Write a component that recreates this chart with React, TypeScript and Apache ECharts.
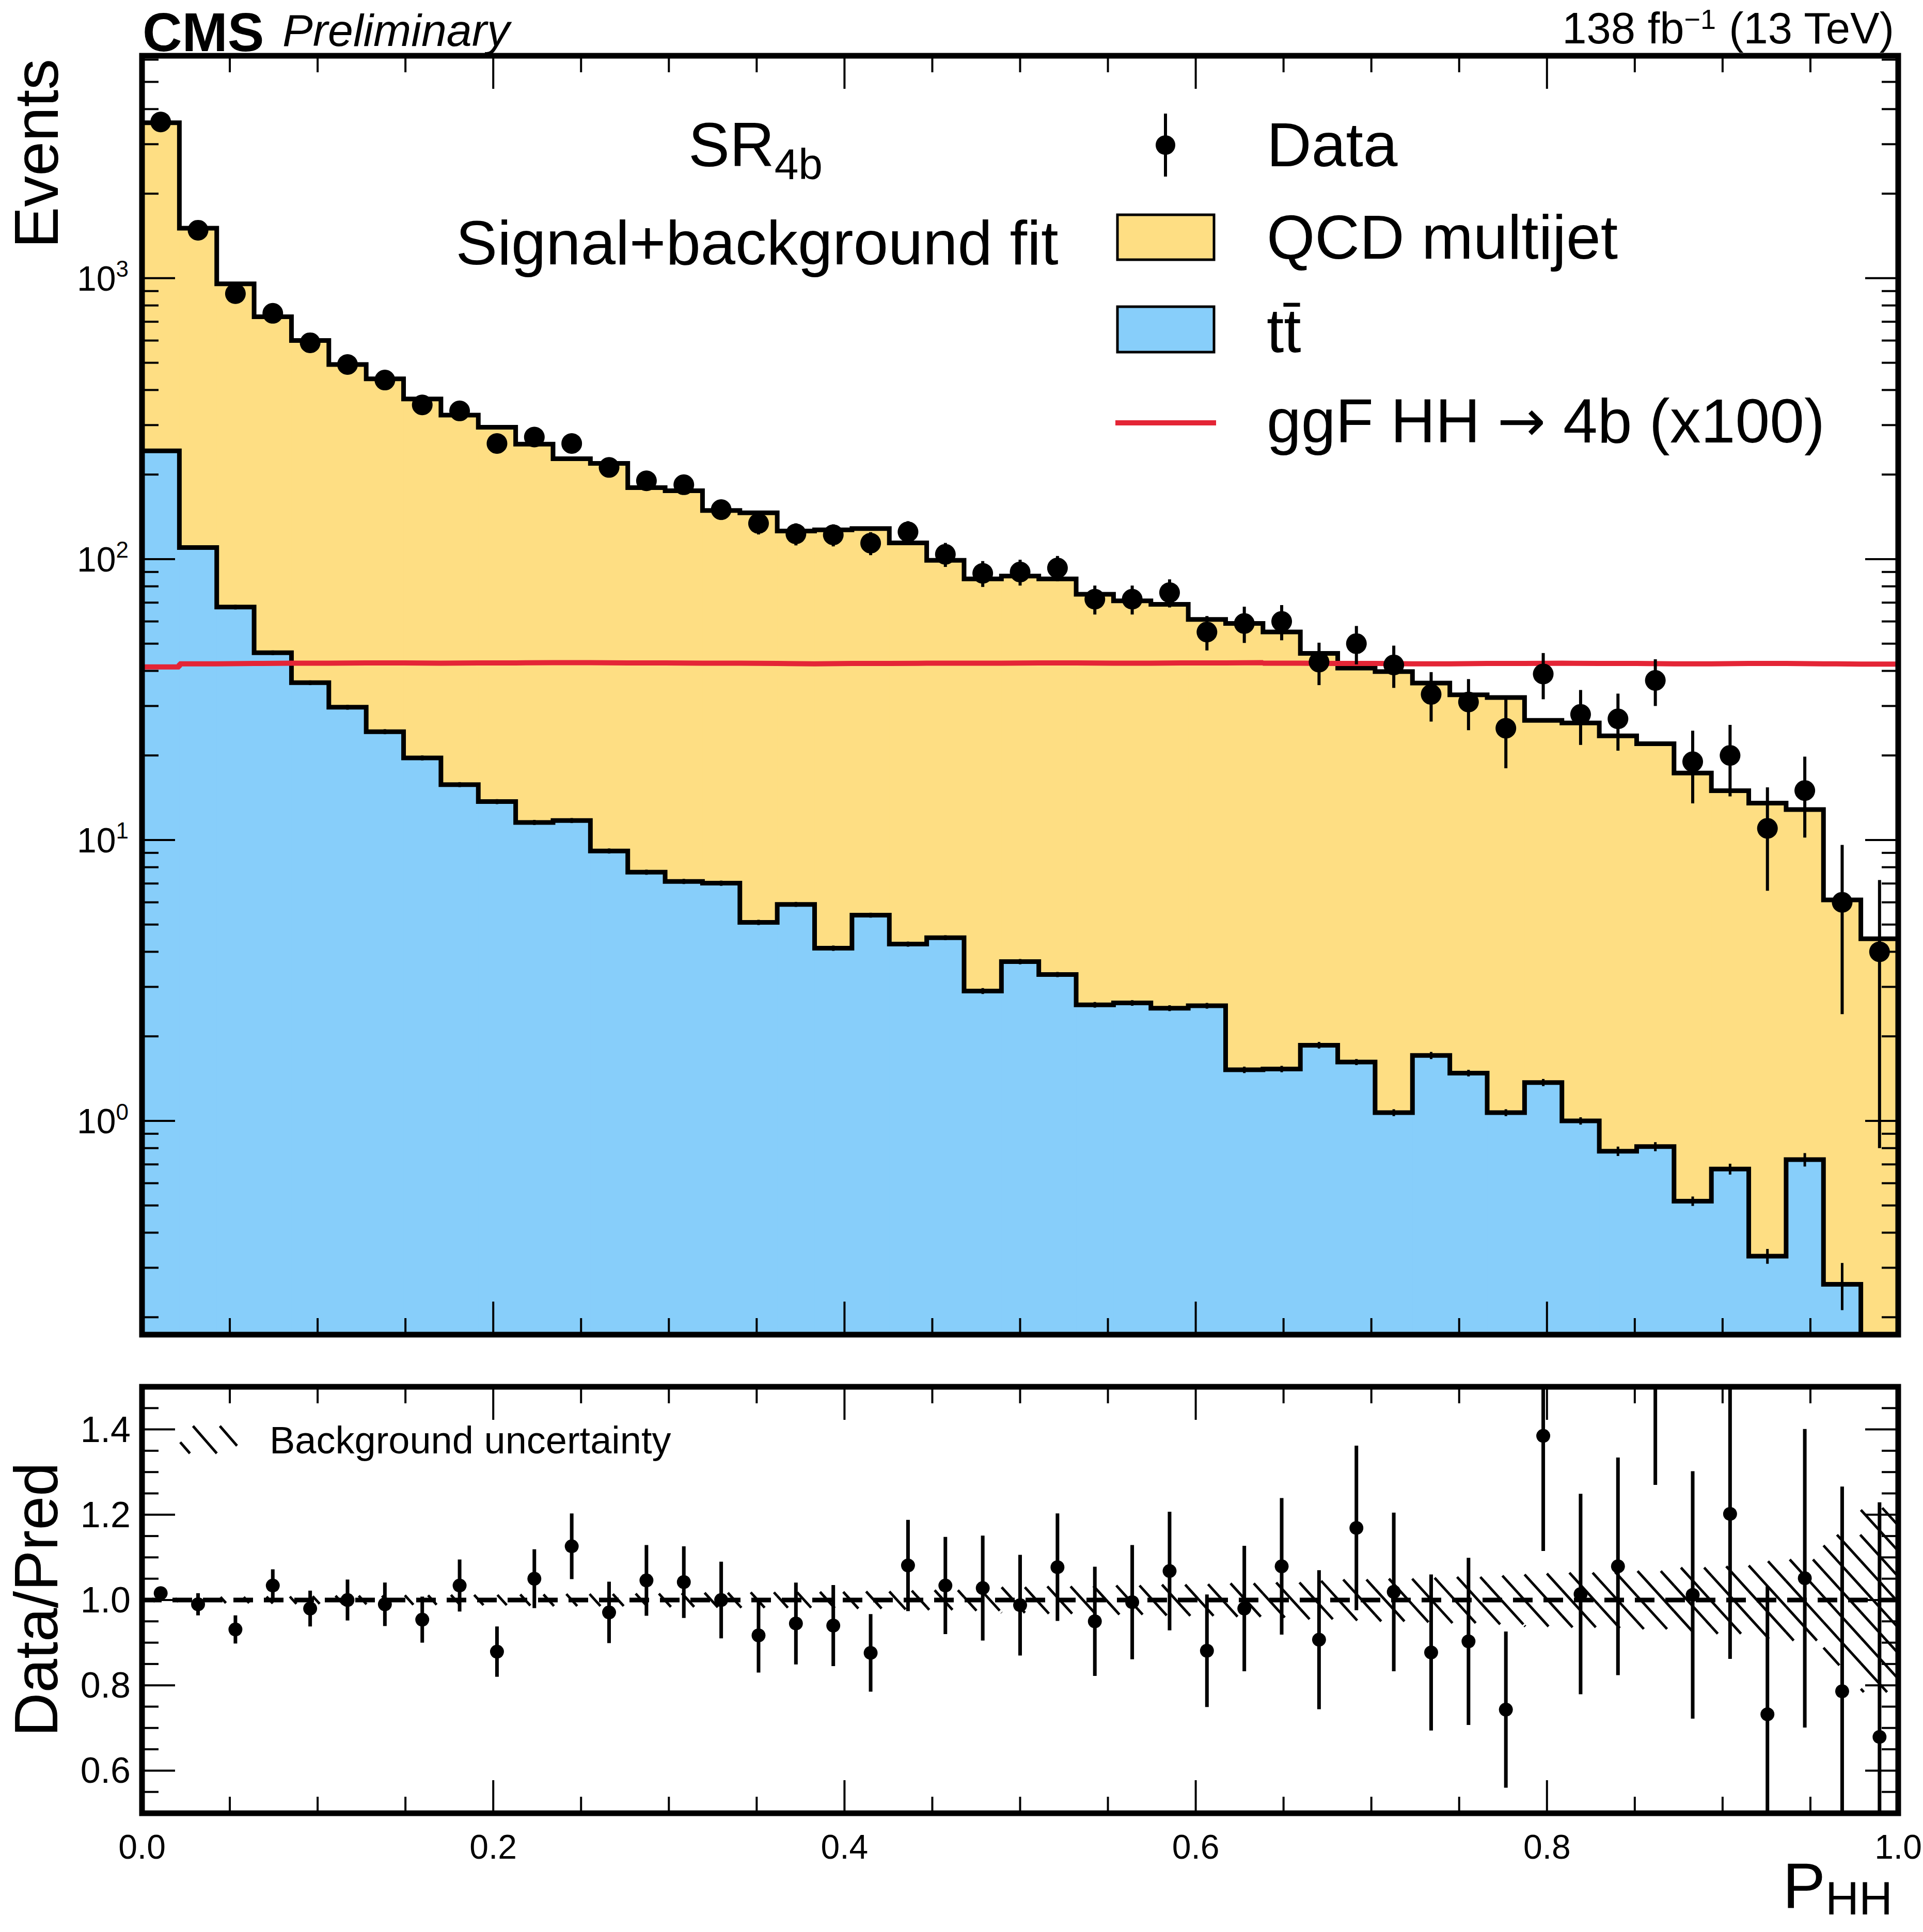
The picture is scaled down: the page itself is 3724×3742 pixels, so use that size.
import React, { useEffect, useRef } from "react";
import * as echarts from "echarts";

// ---------------- binning ----------------
const NBINS = 47;
const binLow: number[] = Array.from({ length: NBINS }, (_, i) => i / NBINS);
const binHigh: number[] = Array.from({ length: NBINS }, (_, i) => (i + 1) / NBINS);
const binCenter: number[] = binLow.map((lo, i) => (lo + binHigh[i]) / 2);

// ---------------- upper panel (events per bin) ----------------
const qcdMultijet = [3332, 1397, 887, 683, 564, 463, 414, 352, 310, 281, 245, 216, 210, 172, 168, 142, 141, 120, 123, 123, 110, 94.5, 82.1, 83.3, 81.7, 72.4, 68.4, 66.5, 58.4, 57.5, 53.5, 44.3, 39.3, 38.7, 34.5, 31.4, 31.1, 25.3, 25.1, 22.7, 21.2, 16.8, 14.3, 13.2, 12.1, 5.86, 4.4];
const ttbar = [243, 110, 67.5, 46.4, 36.3, 29.7, 24.3, 19.6, 15.75, 13.7, 11.55, 11.73, 9.14, 7.68, 7.12, 7.02, 5.09, 5.9, 4.12, 5.4, 4.26, 4.49, 2.9, 3.69, 3.32, 2.59, 2.63, 2.52, 2.57, 1.52, 1.53, 1.86, 1.62, 1.07, 1.71, 1.48, 1.07, 1.37, 1.0, 0.78, 0.81, 0.518, 0.674, 0.33, 0.728, 0.262, 0.05];
const ttbarErr = [4, 2, 1.3, 0.9, 0.7, 0.6, 0.5, 0.4, 0.32, 0.28, 0.24, 0.24, 0.19, 0.16, 0.15, 0.15, 0.11, 0.12, 0.09, 0.11, 0.09, 0.09, 0.07, 0.08, 0.07, 0.06, 0.06, 0.06, 0.06, 0.04, 0.04, 0.05, 0.04, 0.03, 0.05, 0.04, 0.03, 0.04, 0.03, 0.03, 0.03, 0.02, 0.03, 0.02, 0.04, 0.05, 0];
const signalX100 = [41.3, 42.4, 42.5, 42.6, 42.6, 42.7, 42.7, 42.6, 42.7, 42.7, 42.8, 42.8, 42.7, 42.7, 42.6, 42.6, 42.5, 42.4, 42.5, 42.5, 42.6, 42.6, 42.6, 42.7, 42.7, 42.6, 42.6, 42.7, 42.7, 42.8, 42.6, 42.5, 42.5, 42.4, 42.4, 42.5, 42.5, 42.6, 42.5, 42.5, 42.4, 42.4, 42.5, 42.5, 42.4, 42.3, 42.3];
const dataEvents = [3600, 1482, 881, 750, 589, 493, 434, 354, 337, 258, 272, 258, 212, 190, 184, 150, 134, 123, 122, 114, 125, 104, 89, 90, 93, 72, 72, 76, 55, 59, 60, 43, 50, 42, 33, 31, 25, 39, 28, 27, 37, 19, 20, 11, 15, 6, 4];
const dataErr = [60, 38, 30, 27, 24, 22, 21, 19, 18, 16, 16.5, 16, 14.6, 13.8, 13.6, 12.2, 11.6, 11.1, 11, 10.7, 11.5, 10.2, 9.4, 9.5, 9.6, 8.5, 8.5, 8.7, 7.7, 8.7, 8.6, 7.4, 7.8, 7.2, 6.6, 6.4, 7.0, 7.3, 6.2, 6.2, 7.0, 5.5, 5.7, 4.4, 4.8, 3.6, 3.2];

// ---------------- lower panel (Data/Pred) ----------------
const ratio = [1.016, 0.99, 0.931, 1.034, 0.98, 1.0, 0.99, 0.954, 1.034, 0.879, 1.05, 1.126, 0.971, 1.046, 1.042, 1.0, 0.917, 0.945, 0.94, 0.876, 1.081, 1.034, 1.028, 0.988, 1.077, 0.95, 0.995, 1.068, 0.881, 0.98, 1.079, 0.907, 1.169, 1.019, 0.877, 0.903, 0.743, 1.385, 1.014, 1.079, 1.68, 1.012, 1.202, 0.732, 1.051, 0.786, 0.679];
const ratioErr = [0.015, 0.026, 0.033, 0.038, 0.042, 0.048, 0.051, 0.054, 0.061, 0.059, 0.069, 0.077, 0.072, 0.083, 0.084, 0.09, 0.087, 0.096, 0.095, 0.091, 0.107, 0.114, 0.123, 0.118, 0.126, 0.128, 0.134, 0.139, 0.132, 0.147, 0.16, 0.163, 0.193, 0.186, 0.183, 0.196, 0.183, 0.27, 0.235, 0.255, 0.41, 0.29, 0.34, 0.3, 0.35, 0.48, 0.55];
const bkgUncertainty = [0.004, 0.005, 0.007, 0.008, 0.009, 0.01, 0.01, 0.011, 0.012, 0.012, 0.013, 0.014, 0.014, 0.015, 0.016, 0.017, 0.018, 0.018, 0.019, 0.02, 0.022, 0.023, 0.025, 0.03, 0.032, 0.033, 0.034, 0.036, 0.037, 0.039, 0.041, 0.045, 0.048, 0.05, 0.052, 0.054, 0.057, 0.062, 0.064, 0.066, 0.068, 0.076, 0.079, 0.091, 0.095, 0.153, 0.216];

// ---------------- axes ----------------
const Y_MIN = 0.1734;
const Y_MAX = 6194;
const xTickValues = [0.05, 0.1, 0.15, 0.2, 0.25, 0.3, 0.35, 0.4, 0.45, 0.5, 0.55, 0.6, 0.65, 0.7, 0.75, 0.8, 0.85, 0.9, 0.95];
const xMajorTicks = [0.2, 0.4, 0.6, 0.8];
const eventsMajorTicks = [1, 10, 100, 1000];
const eventsMinorTicks = [0.2, 0.3, 0.4, 0.5, 0.6, 0.7, 0.8, 0.9, 2, 3, 4, 5, 6, 7, 8, 9, 20, 30, 40, 50, 60, 70, 80, 90, 200, 300, 400, 500, 600, 700, 800, 900, 2000, 3000, 4000, 5000, 6000];
const ratioTickValues = [0.55, 0.6, 0.65, 0.7, 0.75, 0.8, 0.85, 0.9, 0.95, 1.0, 1.05, 1.1, 1.15, 1.2, 1.25, 1.3, 1.35, 1.4, 1.45];
const ratioMajorTicks = [0.6, 0.8, 1.0, 1.2, 1.4];

// ---------------- style ----------------
const FONT = "'Liberation Sans', Arial, Helvetica, sans-serif";
const ARROW_FONT = "'DejaVu Sans', sans-serif";
const YELLOW = "#FEDE83";
const BLUE = "#87CEFA";
const RED = "#E42536";
const TOP = { left: 275, top: 108, width: 3401, height: 2477 };
const BOT = { left: 275, top: 2686, width: 3401, height: 826 };

function hatchSegments(x0: number, x1: number, y0: number, y1: number, spacing: number, k: number) {
  const segs: number[][] = [];
  const nStart = Math.ceil((x0 - y1 / k) / spacing);
  const nEnd = Math.floor((x1 - y0 / k) / spacing);
  for (let n = nStart; n <= nEnd; n++) {
    const c = n * spacing;
    const ya = Math.max(y0, k * (x0 - c));
    const yb = Math.min(y1, k * (x1 - c));
    if (yb - ya > 0.5) segs.push([c + ya / k, ya, c + yb / k, yb]);
  }
  return segs;
}

const isMajor = (v: number, list: number[]) => list.some((m) => Math.abs(m - v) < 1e-9);

function fillRender(color: string) {
  return (params: any, api: any) => {
    const lo = api.value(0);
    const hi = api.value(1);
    const top = api.value(2);
    const cs = params.coordSys;
    const p0 = api.coord([lo, top]);
    const p1 = api.coord([hi, Y_MIN]);
    const yb = cs.y + cs.height;
    const yt = Math.max(p0[1], cs.y);
    if (!(yt < yb)) return null;
    return {
      type: "rect",
      shape: { x: p0[0], y: yt, width: p1[0] - p0[0] + 1.5, height: yb - yt },
      style: { fill: color },
    };
  };
}

function errRender(lineWidth: number, floor: number) {
  return (params: any, api: any) => {
    const xc = api.value(0);
    const v = api.value(1);
    const e = api.value(2);
    if (!(e > 0)) return null;
    const cs = params.coordSys;
    const lo = Math.max(v - e, floor);
    const a = api.coord([xc, v + e]);
    const b = api.coord([xc, lo]);
    const ya = Math.max(Math.min(a[1], b[1]), cs.y);
    const yb = Math.min(Math.max(a[1], b[1]), cs.y + cs.height);
    if (!(ya < yb)) return null;
    return {
      type: "line",
      shape: { x1: a[0], y1: ya, x2: a[0], y2: yb },
      style: { stroke: "#000", lineWidth },
    };
  };
}

function tickRender(xRef: number, yRef: number) {
  return (params: any, api: any) => {
    const kind = api.value(2);
    const major = api.value(3);
    const cs = params.coordSys;
    const L = major ? 64 : 32;
    const style = { stroke: "#000", lineWidth: 4 };
    if (kind === 0) {
      const px = api.coord([api.value(0), yRef])[0];
      const bottom = cs.y + cs.height;
      return {
        type: "group",
        children: [
          { type: "line", shape: { x1: px, y1: bottom, x2: px, y2: bottom - L }, style },
          { type: "line", shape: { x1: px, y1: cs.y, x2: px, y2: cs.y + L }, style },
        ],
      };
    }
    const py = api.coord([xRef, api.value(1)])[1];
    const right = cs.x + cs.width;
    return {
      type: "group",
      children: [
        { type: "line", shape: { x1: cs.x, y1: py, x2: cs.x + L, y2: py }, style },
        { type: "line", shape: { x1: right, y1: py, x2: right - L, y2: py }, style },
      ],
    };
  };
}

function stepPoints(values: number[]) {
  const pts = binLow.map((lo, i) => [lo, values[i]]);
  pts.push([1, values[values.length - 1]]);
  return pts;
}

function buildOption() {
  const total = qcdMultijet.map((q, i) => q + ttbar[i]);

  const topTicks = [
    ...xTickValues.map((v) => [v, 1, 0, isMajor(v, xMajorTicks) ? 1 : 0]),
    ...eventsMajorTicks.map((v) => [0.5, v, 1, 1]),
    ...eventsMinorTicks.filter((v) => v > Y_MIN && v < Y_MAX).map((v) => [0.5, v, 1, 0]),
  ];
  const botTicks = [
    ...xTickValues.map((v) => [v, 1, 0, isMajor(v, xMajorTicks) ? 1 : 0]),
    ...ratioTickValues.map((v) => [0.5, v, 1, isMajor(v, ratioMajorTicks) ? 1 : 0]),
  ];

  const legendHatch = hatchSegments(349, 459, 2762, 2815, 52, 1.15).map((s) => ({
    type: "line",
    shape: { x1: s[0], y1: s[1], x2: s[2], y2: s[3] },
    style: { stroke: "#000", lineWidth: 5 },
    z: 100,
  }));

  const txt = (text: string, x: number, y: number, fontSize: number, extra: any = {}) => ({
    type: "text",
    x,
    y,
    z: 100,
    style: {
      text,
      fontSize,
      fontFamily: FONT,
      fill: "#000",
      align: "left",
      verticalAlign: "middle",
      ...extra,
    },
  });

  return {
    animation: false,
    backgroundColor: "#fff",
    grid: [
      { ...TOP, containLabel: false, outerBoundsMode: "none" },
      { ...BOT, containLabel: false, outerBoundsMode: "none" },
    ],
    xAxis: [
      { gridIndex: 0, type: "value", min: 0, max: 1, show: false },
      {
        gridIndex: 1,
        type: "value",
        min: 0,
        max: 1,
        interval: 0.2,
        axisLine: { show: false },
        axisTick: { show: false },
        splitLine: { show: false },
        axisLabel: {
          fontSize: 66,
          fontFamily: FONT,
          color: "#000",
          margin: 32,
          formatter: (v: number) => v.toFixed(1),
        },
      },
    ],
    yAxis: [
      {
        gridIndex: 0,
        type: "log",
        logBase: 10,
        min: Y_MIN,
        max: Y_MAX,
        axisLine: { show: false },
        axisTick: { show: false },
        splitLine: { show: false },
        axisLabel: {
          margin: 26,
          color: "#000",
          formatter: (v: number) => {
            const l = Math.log10(v);
            const k = Math.round(l);
            if (Math.abs(l - k) > 1e-6) return "";
            return "{b|10}{s|" + k + "}";
          },
          rich: {
            b: { fontSize: 68, lineHeight: 80, fontFamily: FONT, color: "#000" },
            s: { fontSize: 44, lineHeight: 36, fontFamily: FONT, color: "#000", verticalAlign: "top" },
          },
        },
      },
      {
        gridIndex: 1,
        type: "value",
        min: 0.5,
        max: 1.5,
        interval: 0.1,
        axisLine: { show: false },
        axisTick: { show: false },
        splitLine: { show: false },
        axisLabel: {
          fontSize: 70,
          fontFamily: FONT,
          color: "#000",
          margin: 22,
          formatter: (v: number) => {
            const t = Math.round(v * 10);
            return t % 2 === 0 && t >= 6 && t <= 14 ? (t / 10).toFixed(1) : "";
          },
        },
      },
    ],
    series: [
      {
        name: "QCD multijet",
        type: "custom",
        xAxisIndex: 0,
        yAxisIndex: 0,
        z: 1,
        clip: true,
        silent: true,
        renderItem: fillRender(YELLOW),
        data: binLow.map((lo, i) => [lo, binHigh[i], total[i]]),
      },
      {
        name: "ttbar",
        type: "custom",
        xAxisIndex: 0,
        yAxisIndex: 0,
        z: 1,
        clip: true,
        silent: true,
        renderItem: fillRender(BLUE),
        data: binLow.map((lo, i) => [lo, binHigh[i], ttbar[i]]),
      },
      {
        name: "total outline",
        type: "line",
        xAxisIndex: 0,
        yAxisIndex: 0,
        step: "end",
        symbol: "none",
        z: 3,
        clip: true,
        silent: true,
        lineStyle: { color: "#000", width: 9, join: "miter" },
        data: stepPoints(total),
      },
      {
        name: "ttbar outline",
        type: "line",
        xAxisIndex: 0,
        yAxisIndex: 0,
        step: "end",
        symbol: "none",
        z: 3,
        clip: true,
        silent: true,
        lineStyle: { color: "#000", width: 9, join: "miter" },
        data: stepPoints(ttbar),
      },
      {
        name: "ttbar stat",
        type: "custom",
        xAxisIndex: 0,
        yAxisIndex: 0,
        z: 3,
        clip: true,
        silent: true,
        renderItem: errRender(5, Y_MIN),
        data: binCenter.map((c, i) => [c, ttbar[i], ttbarErr[i]]),
      },
      {
        name: "ggF HH x100",
        type: "line",
        xAxisIndex: 0,
        yAxisIndex: 0,
        step: "end",
        symbol: "none",
        z: 4,
        clip: true,
        silent: true,
        lineStyle: { color: RED, width: 10 },
        data: stepPoints(signalX100),
      },
      {
        name: "data err",
        type: "custom",
        xAxisIndex: 0,
        yAxisIndex: 0,
        z: 5,
        clip: true,
        silent: true,
        renderItem: errRender(6, Y_MIN),
        data: binCenter.map((c, i) => [c, dataEvents[i], dataErr[i]]),
      },
      {
        name: "Data",
        type: "scatter",
        xAxisIndex: 0,
        yAxisIndex: 0,
        z: 6,
        clip: true,
        silent: true,
        symbol: "circle",
        symbolSize: 40,
        itemStyle: { color: "#000", opacity: 1 },
        data: binCenter.map((c, i) => [c, dataEvents[i]]),
      },
      {
        name: "top ticks",
        type: "custom",
        xAxisIndex: 0,
        yAxisIndex: 0,
        z: 7,
        silent: true,
        renderItem: tickRender(0.5, 1),
        data: topTicks,
      },
      // ---- lower panel ----
      {
        name: "Background uncertainty",
        type: "custom",
        xAxisIndex: 1,
        yAxisIndex: 1,
        z: 1,
        clip: true,
        silent: true,
        renderItem: (params: any, api: any) => {
          const lo = api.value(0);
          const hi = api.value(1);
          const u = api.value(2);
          const a = api.coord([lo, 1 + u]);
          const b = api.coord([hi, 1 - u]);
          const segs = hatchSegments(a[0], b[0], a[1], b[1], 45, 1.1);
          return {
            type: "group",
            children: segs.map((s) => ({
              type: "line",
              shape: { x1: s[0], y1: s[1], x2: s[2], y2: s[3] },
              style: { stroke: "#000", lineWidth: 5 },
            })),
          };
        },
        data: binLow.map((lo, i) => [lo, binHigh[i], bkgUncertainty[i]]),
      },
      {
        name: "unity",
        type: "line",
        xAxisIndex: 1,
        yAxisIndex: 1,
        symbol: "none",
        z: 2,
        silent: true,
        lineStyle: { color: "#000", width: 9, type: [38, 21] },
        data: [
          [0, 1],
          [1, 1],
        ],
      },
      {
        name: "ratio err",
        type: "custom",
        xAxisIndex: 1,
        yAxisIndex: 1,
        z: 5,
        clip: true,
        silent: true,
        renderItem: errRender(7, -10),
        data: binCenter.map((c, i) => [c, ratio[i], ratioErr[i]]),
      },
      {
        name: "Data/Pred",
        type: "scatter",
        xAxisIndex: 1,
        yAxisIndex: 1,
        z: 6,
        clip: true,
        silent: true,
        symbol: "circle",
        symbolSize: 27,
        itemStyle: { color: "#000", opacity: 1 },
        data: binCenter.map((c, i) => [c, ratio[i]]),
      },
      {
        name: "bottom ticks",
        type: "custom",
        xAxisIndex: 1,
        yAxisIndex: 1,
        z: 7,
        silent: true,
        renderItem: tickRender(0.5, 1),
        data: botTicks,
      },
    ],
    graphic: {
      elements: [
        {
          type: "rect",
          z: 100,
          silent: true,
          shape: { x: TOP.left, y: TOP.top, width: TOP.width, height: TOP.height },
          style: { fill: "none", stroke: "#000", lineWidth: 11 },
        },
        {
          type: "rect",
          z: 100,
          silent: true,
          shape: { x: BOT.left, y: BOT.top, width: BOT.width, height: BOT.height },
          style: { fill: "none", stroke: "#000", lineWidth: 11 },
        },
        txt("CMS", 276, 62, 106, { fontWeight: "bold", lineHeight: 106 }),
        txt("Preliminary", 547, 58, 88, { fontStyle: "italic", lineHeight: 88 }),
        {
          type: "text",
          x: 3668,
          y: 54,
          z: 100,
          style: {
            text: "{a|138 fb}{s|\u22121}{a| (13 TeV)}",
            align: "right",
            verticalAlign: "middle",
            rich: {
              a: { fontSize: 85, lineHeight: 88, fontFamily: FONT, fill: "#000" },
              s: { fontSize: 54, lineHeight: 44, fontFamily: FONT, fill: "#000", verticalAlign: "top" },
            },
          },
        },
        {
          type: "text",
          x: 1463,
          y: 280,
          z: 100,
          style: {
            text: "{m|SR}{d|4b}",
            align: "center",
            verticalAlign: "middle",
            rich: {
              m: { fontSize: 120, lineHeight: 160, fontFamily: FONT, fill: "#000" },
              d: { fontSize: 84, lineHeight: 92, fontFamily: FONT, fill: "#000", verticalAlign: "bottom" },
            },
          },
        },
        txt("Signal+background fit", 1466, 470, 121, { align: "center" }),
        // legend
        {
          type: "line",
          z: 100,
          shape: { x1: 2257, y1: 220, x2: 2257, y2: 342 },
          style: { stroke: "#000", lineWidth: 6 },
        },
        { type: "circle", z: 100, shape: { cx: 2257, cy: 281, r: 19 }, style: { fill: "#000" } },
        txt("Data", 2453, 280, 120),
        {
          type: "rect",
          z: 100,
          shape: { x: 2164, y: 416, width: 187, height: 87 },
          style: { fill: YELLOW, stroke: "#000", lineWidth: 5 },
        },
        txt("QCD multijet", 2453, 459, 120),
        {
          type: "rect",
          z: 100,
          shape: { x: 2164, y: 594, width: 187, height: 88 },
          style: { fill: BLUE, stroke: "#000", lineWidth: 5 },
        },
        txt("tt\u0304", 2453, 640, 120),
        {
          type: "line",
          z: 100,
          shape: { x1: 2160, y1: 819, x2: 2355, y2: 819 },
          style: { stroke: RED, lineWidth: 10 },
        },
        {
          type: "text",
          x: 2453,
          y: 815,
          z: 100,
          style: {
            text: "{a|ggF HH }{r|\u2192}{a| 4b (x100)}",
            align: "left",
            verticalAlign: "middle",
            rich: {
              a: { fontSize: 120, lineHeight: 140, fontFamily: FONT, fill: "#000" },
              r: { fontSize: 112, lineHeight: 140, fontFamily: ARROW_FONT, fill: "#000" },
            },
          },
        },
        // lower legend
        ...legendHatch,
        txt("Background uncertainty", 522, 2789, 74),
        // axis titles
        {
          type: "text",
          x: 70,
          y: 114,
          rotation: Math.PI / 2,
          z: 100,
          style: {
            text: "Events",
            fontSize: 120,
            lineHeight: 120,
            fontFamily: FONT,
            fill: "#000",
            align: "right",
            verticalAlign: "middle",
          },
        },
        {
          type: "text",
          x: 70,
          y: 3098,
          rotation: Math.PI / 2,
          z: 100,
          style: {
            text: "Data/Pred",
            fontSize: 118,
            lineHeight: 118,
            fontFamily: FONT,
            fill: "#000",
            align: "center",
            verticalAlign: "middle",
          },
        },
        {
          type: "text",
          x: 3665,
          y: 3652,
          z: 100,
          style: {
            text: "{p|P}{s|HH}",
            align: "right",
            verticalAlign: "middle",
            rich: {
              p: { fontSize: 124, lineHeight: 140, fontFamily: FONT, fill: "#000" },
              s: { fontSize: 90, lineHeight: 72, fontFamily: FONT, fill: "#000", verticalAlign: "bottom" },
            },
          },
        },
      ],
    },
  };
}

export default function App() {
  const ref = useRef<HTMLDivElement>(null);
  useEffect(() => {
    document.body.style.margin = "0";
    const el = ref.current;
    if (!el) return;
    const chart = echarts.init(el, null, { renderer: "svg" });
    chart.setOption(buildOption() as any);
    return () => chart.dispose();
  }, []);
  return <div ref={ref} style={{ width: 3724, height: 3742 }} />;
}
